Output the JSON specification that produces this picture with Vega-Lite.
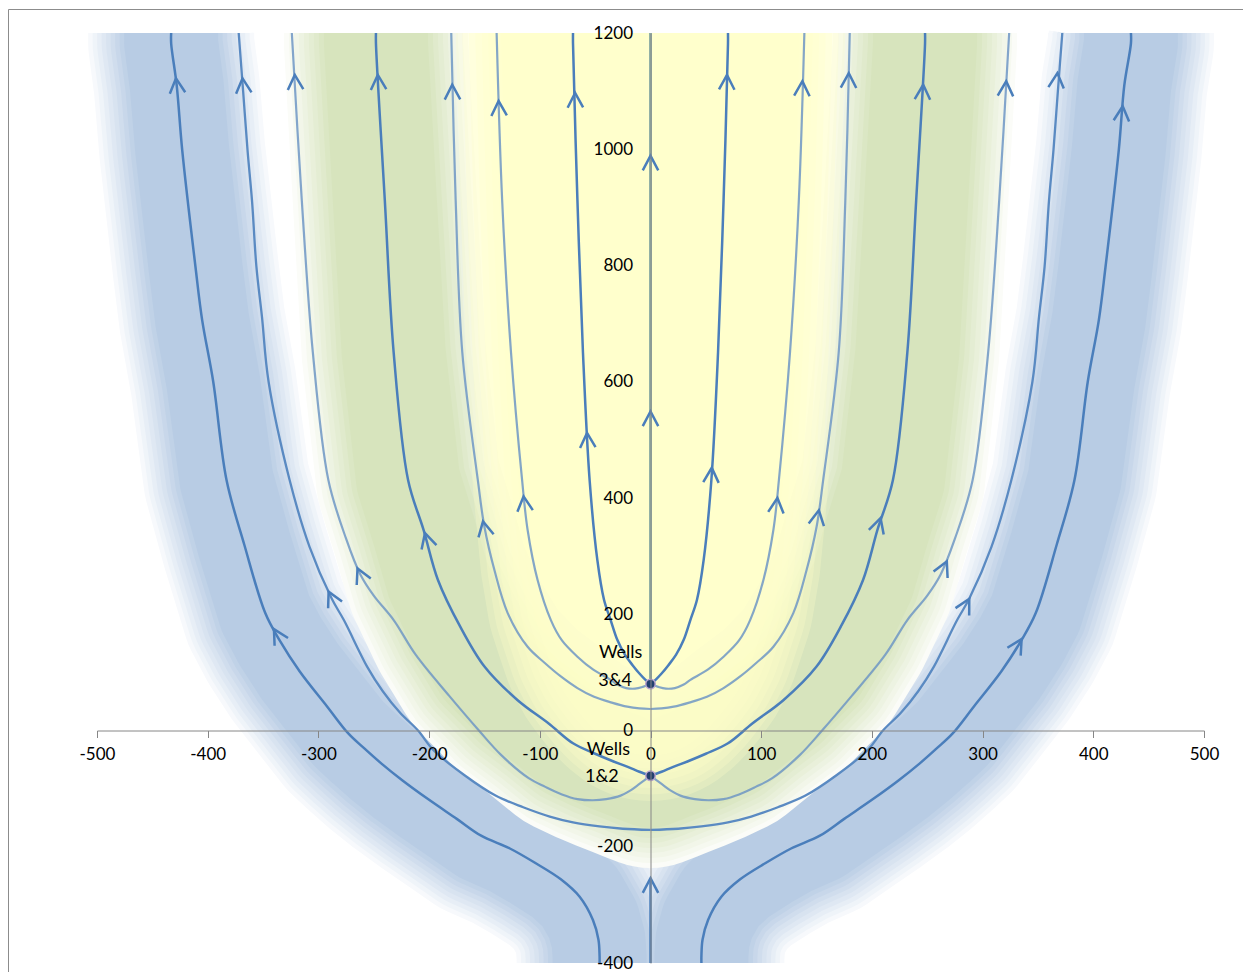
{
"$schema":"https://vega.github.io/schema/vega-lite/v6.json",
"width":1235,"height":963,
"autosize":{"type":"none"},
"padding":{"left":8,"top":9,"right":0,"bottom":0},
"config":{"view":{"stroke":"#8c8c8c","strokeWidth":1},"background":"white"},
"datasets":{
"sl":[
{"ln":"L1","p":"P1","o":-1,"x":-46,"y":-400},{"ln":"L1","p":"P1","o":-1.5,"x":-46,"y":-388},{"ln":"L1","p":"P1","o":-2,"x":-47,"y":-360},{"ln":"L1","p":"P1","o":-3,"x":-52,"y":-326},{"ln":"L1","p":"P1","o":-4,"x":-64,"y":-286},{"ln":"L1","p":"P1","o":-5,"x":-81,"y":-256},{"ln":"L1","p":"P1","o":-6,"x":-104,"y":-228},{"ln":"L1","p":"P1","o":-7,"x":-127,"y":-203},{"ln":"L1","p":"P1","o":-8,"x":-153,"y":-181},{"ln":"L1","p":"P1","o":-9,"x":-175,"y":-152},{"ln":"L1","p":"P1","o":-10,"x":-201,"y":-118},{"ln":"L1","p":"P1","o":-11,"x":-224,"y":-86},{"ln":"L1","p":"P1","o":-12,"x":-243,"y":-57},{"ln":"L1","p":"P1","o":-13,"x":-259,"y":-30},{"ln":"L1","p":"P1","o":-14,"x":-273,"y":-5},{"ln":"L1","p":"P1","o":-15,"x":-292,"y":41},{"ln":"L1","p":"P1","o":-16,"x":-317,"y":102},{"ln":"L1","p":"P1","o":-17,"x":-335,"y":155},{"ln":"L1","p":"P1","o":-18,"x":-348,"y":202},{"ln":"L1","p":"P1","o":-19,"x":-367,"y":320},{"ln":"L1","p":"P1","o":-20,"x":-383,"y":431},{"ln":"L1","p":"P1","o":-21,"x":-395,"y":600},{"ln":"L1","p":"P1","o":-22,"x":-405,"y":706},{"ln":"L1","p":"P1","o":-23,"x":-411,"y":797},{"ln":"L1","p":"P1","o":-24,"x":-423,"y":998},{"ln":"L1","p":"P1","o":-25,"x":-428,"y":1110},{"ln":"L1","p":"P1","o":-25.5,"x":-433,"y":1182},{"ln":"L1","p":"P1","o":-26,"x":-433,"y":1200},
{"ln":"R1","p":"P1","o":1,"x":46,"y":-400},{"ln":"R1","p":"P1","o":1.5,"x":46,"y":-388},{"ln":"R1","p":"P1","o":2,"x":47,"y":-360},{"ln":"R1","p":"P1","o":3,"x":52,"y":-326},{"ln":"R1","p":"P1","o":4,"x":64,"y":-286},{"ln":"R1","p":"P1","o":5,"x":81,"y":-256},{"ln":"R1","p":"P1","o":6,"x":104,"y":-228},{"ln":"R1","p":"P1","o":7,"x":127,"y":-203},{"ln":"R1","p":"P1","o":8,"x":153,"y":-181},{"ln":"R1","p":"P1","o":9,"x":175,"y":-152},{"ln":"R1","p":"P1","o":10,"x":201,"y":-118},{"ln":"R1","p":"P1","o":11,"x":224,"y":-86},{"ln":"R1","p":"P1","o":12,"x":243,"y":-57},{"ln":"R1","p":"P1","o":13,"x":259,"y":-30},{"ln":"R1","p":"P1","o":14,"x":273,"y":-5},{"ln":"R1","p":"P1","o":15,"x":292,"y":41},{"ln":"R1","p":"P1","o":16,"x":317,"y":102},{"ln":"R1","p":"P1","o":17,"x":335,"y":155},{"ln":"R1","p":"P1","o":18,"x":348,"y":202},{"ln":"R1","p":"P1","o":19,"x":367,"y":320},{"ln":"R1","p":"P1","o":20,"x":383,"y":431},{"ln":"R1","p":"P1","o":21,"x":395,"y":600},{"ln":"R1","p":"P1","o":22,"x":405,"y":706},{"ln":"R1","p":"P1","o":23,"x":411,"y":797},{"ln":"R1","p":"P1","o":24,"x":423,"y":998},{"ln":"R1","p":"P1","o":25,"x":428,"y":1110},{"ln":"R1","p":"P1","o":25.5,"x":434,"y":1182},{"ln":"R1","p":"P1","o":26,"x":434,"y":1200},
{"ln":"L2","p":"P2","o":-1,"x":0,"y":-171},{"ln":"L2","p":"P2","o":-2,"x":-25,"y":-169},{"ln":"L2","p":"P2","o":-3,"x":-46,"y":-165},{"ln":"L2","p":"P2","o":-4,"x":-70,"y":-158},{"ln":"L2","p":"P2","o":-5,"x":-91,"y":-148},{"ln":"L2","p":"P2","o":-6,"x":-115,"y":-132},{"ln":"L2","p":"P2","o":-7,"x":-140,"y":-112},{"ln":"L2","p":"P2","o":-8,"x":-168,"y":-77},{"ln":"L2","p":"P2","o":-9,"x":-196,"y":-34},{"ln":"L2","p":"P2","o":-10,"x":-210,"y":0},{"ln":"L2","p":"P2","o":-11,"x":-226,"y":30},{"ln":"L2","p":"P2","o":-12,"x":-242,"y":68},{"ln":"L2","p":"P2","o":-13,"x":-256,"y":110},{"ln":"L2","p":"P2","o":-14,"x":-277,"y":190},{"ln":"L2","p":"P2","o":-15,"x":-288,"y":227},{"ln":"L2","p":"P2","o":-16,"x":-308,"y":316},{"ln":"L2","p":"P2","o":-17,"x":-326,"y":431},{"ln":"L2","p":"P2","o":-18,"x":-345,"y":600},{"ln":"L2","p":"P2","o":-19,"x":-351,"y":712},{"ln":"L2","p":"P2","o":-20,"x":-356,"y":798},{"ln":"L2","p":"P2","o":-21,"x":-360,"y":912},{"ln":"L2","p":"P2","o":-22,"x":-364,"y":998},{"ln":"L2","p":"P2","o":-23,"x":-368,"y":1100},{"ln":"L2","p":"P2","o":-24,"x":-372,"y":1200},
{"ln":"R2","p":"P2","o":1,"x":0,"y":-171},{"ln":"R2","p":"P2","o":2,"x":25,"y":-169},{"ln":"R2","p":"P2","o":3,"x":46,"y":-165},{"ln":"R2","p":"P2","o":4,"x":70,"y":-158},{"ln":"R2","p":"P2","o":5,"x":91,"y":-148},{"ln":"R2","p":"P2","o":6,"x":115,"y":-132},{"ln":"R2","p":"P2","o":7,"x":140,"y":-112},{"ln":"R2","p":"P2","o":8,"x":168,"y":-77},{"ln":"R2","p":"P2","o":9,"x":196,"y":-34},{"ln":"R2","p":"P2","o":10,"x":210,"y":0},{"ln":"R2","p":"P2","o":11,"x":226,"y":30},{"ln":"R2","p":"P2","o":12,"x":242,"y":68},{"ln":"R2","p":"P2","o":13,"x":256,"y":110},{"ln":"R2","p":"P2","o":14,"x":277,"y":190},{"ln":"R2","p":"P2","o":15,"x":288,"y":227},{"ln":"R2","p":"P2","o":16,"x":308,"y":316},{"ln":"R2","p":"P2","o":17,"x":326,"y":431},{"ln":"R2","p":"P2","o":18,"x":345,"y":600},{"ln":"R2","p":"P2","o":19,"x":351,"y":712},{"ln":"R2","p":"P2","o":20,"x":356,"y":798},{"ln":"R2","p":"P2","o":21,"x":360,"y":912},{"ln":"R2","p":"P2","o":22,"x":364,"y":998},{"ln":"R2","p":"P2","o":23,"x":368,"y":1100},{"ln":"R2","p":"P2","o":24,"x":372,"y":1200},
{"ln":"L3","p":"P3","o":-1,"x":0,"y":-78},{"ln":"L3","p":"P3","o":-2,"x":-5,"y":-85},{"ln":"L3","p":"P3","o":-3,"x":-10,"y":-92},{"ln":"L3","p":"P3","o":-4,"x":-18,"y":-103},{"ln":"L3","p":"P3","o":-5,"x":-27,"y":-112},{"ln":"L3","p":"P3","o":-6,"x":-40,"y":-118},{"ln":"L3","p":"P3","o":-7,"x":-52,"y":-120},{"ln":"L3","p":"P3","o":-8,"x":-66,"y":-118},{"ln":"L3","p":"P3","o":-9,"x":-80,"y":-110},{"ln":"L3","p":"P3","o":-10,"x":-95,"y":-97},{"ln":"L3","p":"P3","o":-11,"x":-110,"y":-82},{"ln":"L3","p":"P3","o":-12,"x":-135,"y":-42},{"ln":"L3","p":"P3","o":-13,"x":-155,"y":0},{"ln":"L3","p":"P3","o":-14,"x":-182,"y":60},{"ln":"L3","p":"P3","o":-15,"x":-212,"y":130},{"ln":"L3","p":"P3","o":-16,"x":-232,"y":190},{"ln":"L3","p":"P3","o":-17,"x":-250,"y":232},{"ln":"L3","p":"P3","o":-18,"x":-262,"y":268},{"ln":"L3","p":"P3","o":-19,"x":-275,"y":330},{"ln":"L3","p":"P3","o":-20,"x":-291,"y":431},{"ln":"L3","p":"P3","o":-21,"x":-305,"y":650},{"ln":"L3","p":"P3","o":-22,"x":-315,"y":912},{"ln":"L3","p":"P3","o":-23,"x":-324,"y":1200},
{"ln":"R3","p":"P3","o":1,"x":0,"y":-78},{"ln":"R3","p":"P3","o":2,"x":5,"y":-85},{"ln":"R3","p":"P3","o":3,"x":10,"y":-92},{"ln":"R3","p":"P3","o":4,"x":18,"y":-103},{"ln":"R3","p":"P3","o":5,"x":27,"y":-112},{"ln":"R3","p":"P3","o":6,"x":40,"y":-118},{"ln":"R3","p":"P3","o":7,"x":52,"y":-120},{"ln":"R3","p":"P3","o":8,"x":66,"y":-118},{"ln":"R3","p":"P3","o":9,"x":80,"y":-110},{"ln":"R3","p":"P3","o":10,"x":95,"y":-97},{"ln":"R3","p":"P3","o":11,"x":110,"y":-82},{"ln":"R3","p":"P3","o":12,"x":135,"y":-42},{"ln":"R3","p":"P3","o":13,"x":155,"y":0},{"ln":"R3","p":"P3","o":14,"x":182,"y":60},{"ln":"R3","p":"P3","o":15,"x":212,"y":130},{"ln":"R3","p":"P3","o":16,"x":232,"y":190},{"ln":"R3","p":"P3","o":17,"x":250,"y":232},{"ln":"R3","p":"P3","o":18,"x":262,"y":268},{"ln":"R3","p":"P3","o":19,"x":275,"y":330},{"ln":"R3","p":"P3","o":20,"x":291,"y":431},{"ln":"R3","p":"P3","o":21,"x":305,"y":650},{"ln":"R3","p":"P3","o":22,"x":315,"y":912},{"ln":"R3","p":"P3","o":23,"x":324,"y":1200},
{"ln":"L4","p":"P4","o":-1,"x":0,"y":-78},{"ln":"L4","p":"P4","o":-2,"x":-10,"y":-71},{"ln":"L4","p":"P4","o":-3,"x":-20,"y":-63},{"ln":"L4","p":"P4","o":-4,"x":-35,"y":-52},{"ln":"L4","p":"P4","o":-5,"x":-50,"y":-40},{"ln":"L4","p":"P4","o":-6,"x":-70,"y":-22},{"ln":"L4","p":"P4","o":-7,"x":-92,"y":12},{"ln":"L4","p":"P4","o":-8,"x":-120,"y":52},{"ln":"L4","p":"P4","o":-9,"x":-150,"y":110},{"ln":"L4","p":"P4","o":-10,"x":-172,"y":179},{"ln":"L4","p":"P4","o":-11,"x":-192,"y":259},{"ln":"L4","p":"P4","o":-12,"x":-205,"y":345},{"ln":"L4","p":"P4","o":-13,"x":-219,"y":431},{"ln":"L4","p":"P4","o":-14,"x":-232,"y":650},{"ln":"L4","p":"P4","o":-15,"x":-240,"y":912},{"ln":"L4","p":"P4","o":-15.5,"x":-248,"y":1182},{"ln":"L4","p":"P4","o":-16,"x":-248,"y":1200},
{"ln":"R4","p":"P4","o":1,"x":0,"y":-78},{"ln":"R4","p":"P4","o":2,"x":10,"y":-71},{"ln":"R4","p":"P4","o":3,"x":20,"y":-63},{"ln":"R4","p":"P4","o":4,"x":35,"y":-52},{"ln":"R4","p":"P4","o":5,"x":50,"y":-40},{"ln":"R4","p":"P4","o":6,"x":70,"y":-22},{"ln":"R4","p":"P4","o":7,"x":92,"y":12},{"ln":"R4","p":"P4","o":8,"x":120,"y":52},{"ln":"R4","p":"P4","o":9,"x":150,"y":110},{"ln":"R4","p":"P4","o":10,"x":172,"y":179},{"ln":"R4","p":"P4","o":11,"x":192,"y":259},{"ln":"R4","p":"P4","o":12,"x":205,"y":345},{"ln":"R4","p":"P4","o":13,"x":219,"y":431},{"ln":"R4","p":"P4","o":14,"x":232,"y":650},{"ln":"R4","p":"P4","o":15,"x":240,"y":912},{"ln":"R4","p":"P4","o":15.5,"x":248,"y":1182},{"ln":"R4","p":"P4","o":16,"x":248,"y":1200},
{"ln":"L5","p":"P5","o":-1,"x":0,"y":37},{"ln":"L5","p":"P5","o":-2,"x":-10,"y":38},{"ln":"L5","p":"P5","o":-3,"x":-21,"y":41},{"ln":"L5","p":"P5","o":-4,"x":-35,"y":48},{"ln":"L5","p":"P5","o":-5,"x":-51,"y":58},{"ln":"L5","p":"P5","o":-6,"x":-66,"y":73},{"ln":"L5","p":"P5","o":-7,"x":-81,"y":93},{"ln":"L5","p":"P5","o":-8,"x":-96,"y":117},{"ln":"L5","p":"P5","o":-9,"x":-111,"y":144},{"ln":"L5","p":"P5","o":-10,"x":-129,"y":202},{"ln":"L5","p":"P5","o":-11,"x":-141,"y":276},{"ln":"L5","p":"P5","o":-12,"x":-150,"y":350},{"ln":"L5","p":"P5","o":-13,"x":-156,"y":431},{"ln":"L5","p":"P5","o":-14,"x":-170,"y":650},{"ln":"L5","p":"P5","o":-15,"x":-176,"y":912},{"ln":"L5","p":"P5","o":-16,"x":-180,"y":1200},
{"ln":"R5","p":"P5","o":1,"x":0,"y":37},{"ln":"R5","p":"P5","o":2,"x":10,"y":38},{"ln":"R5","p":"P5","o":3,"x":21,"y":41},{"ln":"R5","p":"P5","o":4,"x":35,"y":48},{"ln":"R5","p":"P5","o":5,"x":51,"y":58},{"ln":"R5","p":"P5","o":6,"x":66,"y":73},{"ln":"R5","p":"P5","o":7,"x":81,"y":93},{"ln":"R5","p":"P5","o":8,"x":96,"y":117},{"ln":"R5","p":"P5","o":9,"x":111,"y":144},{"ln":"R5","p":"P5","o":10,"x":129,"y":202},{"ln":"R5","p":"P5","o":11,"x":141,"y":276},{"ln":"R5","p":"P5","o":12,"x":150,"y":350},{"ln":"R5","p":"P5","o":13,"x":156,"y":431},{"ln":"R5","p":"P5","o":14,"x":170,"y":650},{"ln":"R5","p":"P5","o":15,"x":176,"y":912},{"ln":"R5","p":"P5","o":16,"x":180,"y":1200},
{"ln":"L6","p":"P6","o":-1,"x":0,"y":80},{"ln":"L6","p":"P6","o":-2,"x":-7,"y":75},{"ln":"L6","p":"P6","o":-3,"x":-14,"y":72},{"ln":"L6","p":"P6","o":-4,"x":-22,"y":73},{"ln":"L6","p":"P6","o":-5,"x":-30,"y":79},{"ln":"L6","p":"P6","o":-6,"x":-36,"y":87},{"ln":"L6","p":"P6","o":-7,"x":-52,"y":105},{"ln":"L6","p":"P6","o":-8,"x":-66,"y":127},{"ln":"L6","p":"P6","o":-9,"x":-80,"y":155},{"ln":"L6","p":"P6","o":-10,"x":-90,"y":190},{"ln":"L6","p":"P6","o":-11,"x":-102,"y":259},{"ln":"L6","p":"P6","o":-12,"x":-111,"y":345},{"ln":"L6","p":"P6","o":-13,"x":-116,"y":431},{"ln":"L6","p":"P6","o":-14,"x":-126,"y":650},{"ln":"L6","p":"P6","o":-15,"x":-134,"y":912},{"ln":"L6","p":"P6","o":-16,"x":-139,"y":1200},
{"ln":"R6","p":"P6","o":1,"x":0,"y":80},{"ln":"R6","p":"P6","o":2,"x":7,"y":75},{"ln":"R6","p":"P6","o":3,"x":14,"y":72},{"ln":"R6","p":"P6","o":4,"x":22,"y":73},{"ln":"R6","p":"P6","o":5,"x":30,"y":79},{"ln":"R6","p":"P6","o":6,"x":36,"y":87},{"ln":"R6","p":"P6","o":7,"x":52,"y":105},{"ln":"R6","p":"P6","o":8,"x":66,"y":127},{"ln":"R6","p":"P6","o":9,"x":80,"y":155},{"ln":"R6","p":"P6","o":10,"x":90,"y":190},{"ln":"R6","p":"P6","o":11,"x":102,"y":259},{"ln":"R6","p":"P6","o":12,"x":111,"y":345},{"ln":"R6","p":"P6","o":13,"x":116,"y":431},{"ln":"R6","p":"P6","o":14,"x":126,"y":650},{"ln":"R6","p":"P6","o":15,"x":134,"y":912},{"ln":"R6","p":"P6","o":16,"x":139,"y":1200},
{"ln":"L7","p":"P7","o":-1,"x":0,"y":80},{"ln":"L7","p":"P7","o":-2,"x":-5,"y":88},{"ln":"L7","p":"P7","o":-3,"x":-10,"y":98},{"ln":"L7","p":"P7","o":-4,"x":-16,"y":112},{"ln":"L7","p":"P7","o":-5,"x":-23,"y":130},{"ln":"L7","p":"P7","o":-6,"x":-30,"y":156},{"ln":"L7","p":"P7","o":-7,"x":-36,"y":190},{"ln":"L7","p":"P7","o":-8,"x":-42,"y":225},{"ln":"L7","p":"P7","o":-9,"x":-48,"y":293},{"ln":"L7","p":"P7","o":-10,"x":-55,"y":431},{"ln":"L7","p":"P7","o":-11,"x":-61,"y":650},{"ln":"L7","p":"P7","o":-12,"x":-66,"y":912},{"ln":"L7","p":"P7","o":-12.5,"x":-70,"y":1182},{"ln":"L7","p":"P7","o":-13,"x":-70,"y":1200},
{"ln":"R7","p":"P7","o":1,"x":0,"y":80},{"ln":"R7","p":"P7","o":2,"x":5,"y":88},{"ln":"R7","p":"P7","o":3,"x":10,"y":98},{"ln":"R7","p":"P7","o":4,"x":16,"y":112},{"ln":"R7","p":"P7","o":5,"x":23,"y":130},{"ln":"R7","p":"P7","o":6,"x":30,"y":156},{"ln":"R7","p":"P7","o":7,"x":36,"y":190},{"ln":"R7","p":"P7","o":8,"x":42,"y":225},{"ln":"R7","p":"P7","o":9,"x":48,"y":293},{"ln":"R7","p":"P7","o":10,"x":55,"y":431},{"ln":"R7","p":"P7","o":11,"x":61,"y":650},{"ln":"R7","p":"P7","o":12,"x":66,"y":912},{"ln":"R7","p":"P7","o":12.5,"x":70,"y":1182},{"ln":"R7","p":"P7","o":13,"x":70,"y":1200},
{"ln":"CB","p":"CB","o":1,"x":0,"y":-400},{"ln":"CB","p":"CB","o":2,"x":0,"y":-258},
{"ln":"CT","p":"CT","o":1,"x":0,"y":80},{"ln":"CT","p":"CT","o":2,"x":0,"y":1200}
],
"arrows":[
{"x":-428,"y":1110,"a":-6},{"x":-368,"y":1110,"a":-5},{"x":-321,"y":1116,"a":-3},{"x":-246,"y":1116,"a":-3},{"x":-179,"y":1099,"a":-1},{"x":-137,"y":1071,"a":-2},{"x":-68,"y":1085,"a":-1},
{"x":69,"y":1116,"a":1},{"x":137,"y":1105,"a":2},{"x":179,"y":1119,"a":1},{"x":246,"y":1099,"a":3},{"x":321,"y":1105,"a":3},{"x":367,"y":1119,"a":5},{"x":426,"y":1062,"a":5},
{"x":0,"y":977,"a":0},{"x":0,"y":537,"a":0},{"x":0,"y":-266,"a":0},
{"x":-337,"y":164,"a":-30},{"x":-288,"y":228,"a":-26},{"x":-262,"y":268,"a":-25},{"x":-202,"y":328,"a":-16},{"x":-150,"y":348,"a":-12},{"x":-114,"y":391,"a":-6},{"x":-57,"y":500,"a":-3},
{"x":55,"y":440,"a":3},{"x":114,"y":388,"a":6},{"x":151,"y":367,"a":10},{"x":206,"y":354,"a":17},{"x":265,"y":280,"a":25},{"x":285,"y":216,"a":28},{"x":332,"y":147,"a":31}
],
"grid":[{"y":-400},{"y":-200},{"y":200},{"y":400},{"y":600},{"y":800},{"y":1000},{"y":1200}],
"wells":[{"x":0,"y":-78,"name":"Wells 1&2"},{"x":0,"y":80,"name":"Wells 3&4"}],
"labels":[{"t":"Wells","x":-38,"y":-34},{"t":"1&2","x":-44,"y":-80},{"t":"Wells","x":-27,"y":134},{"t":"3&4","x":-32,"y":85}]
},
"data":{"name":"sl"},
"encoding":{
"x":{"field":"x","type":"quantitative","scale":{"domain":[-500,500],"range":[89,1196],"nice":false,"zero":false},
"axis":{"orient":"bottom","offset":-241.5,"values":[-500,-400,-300,-200,-100,0,100,200,300,400,500],"grid":false,"domainColor":"#868686","tickColor":"#868686","tickSize":7,"labelPadding":9,"labelFont":"Lato","labelFontSize":17,"labelColor":"#000000","labelExpr":"toString(datum.value)","labelFlush":false,"labelOverlap":false,"title":null,"zindex":1}},
"y":{"field":"y","type":"quantitative","scale":{"domain":[-400,1200],"range":[954,24],"nice":false,"zero":false},
"axis":{"orient":"left","offset":-642.5,"values":[-400,-200,0,200,400,600,800,1000,1200],"grid":false,"ticks":false,"tickSize":0,"labelPadding":18,"domainColor":"#868686","labelFont":"Lato","labelFontSize":17,"labelColor":"#000000","labelExpr":"toString(datum.value)","labelFlush":false,"labelOverlap":false,"title":null,"zindex":1}}
},
"layer":[
{"transform":[{"filter":"datum.p==='P1'"}],"mark":{"type":"line","color":"#f7f9fc","strokeWidth":166,"strokeCap":"butt","strokeJoin":"round"},"encoding":{"detail":{"field":"ln"},"order":{"field":"o","type":"quantitative"}}},
{"transform":[{"filter":"datum.p==='P1'"}],"mark":{"type":"line","color":"#eff4f9","strokeWidth":157,"strokeCap":"butt","strokeJoin":"round"},"encoding":{"detail":{"field":"ln"},"order":{"field":"o","type":"quantitative"}}},
{"transform":[{"filter":"datum.p==='P1'"}],"mark":{"type":"line","color":"#e7eef6","strokeWidth":148,"strokeCap":"butt","strokeJoin":"round"},"encoding":{"detail":{"field":"ln"},"order":{"field":"o","type":"quantitative"}}},
{"transform":[{"filter":"datum.p==='P1'"}],"mark":{"type":"line","color":"#dfe8f3","strokeWidth":139,"strokeCap":"butt","strokeJoin":"round"},"encoding":{"detail":{"field":"ln"},"order":{"field":"o","type":"quantitative"}}},
{"transform":[{"filter":"datum.p==='P1'"}],"mark":{"type":"line","color":"#d8e3f0","strokeWidth":130,"strokeCap":"butt","strokeJoin":"round"},"encoding":{"detail":{"field":"ln"},"order":{"field":"o","type":"quantitative"}}},
{"transform":[{"filter":"datum.p==='P1'"}],"mark":{"type":"line","color":"#d0dded","strokeWidth":121,"strokeCap":"butt","strokeJoin":"round"},"encoding":{"detail":{"field":"ln"},"order":{"field":"o","type":"quantitative"}}},
{"transform":[{"filter":"datum.p==='P1'"}],"mark":{"type":"line","color":"#c8d7ea","strokeWidth":112,"strokeCap":"butt","strokeJoin":"round"},"encoding":{"detail":{"field":"ln"},"order":{"field":"o","type":"quantitative"}}},
{"transform":[{"filter":"datum.p==='P1'"}],"mark":{"type":"line","color":"#c0d2e7","strokeWidth":103,"strokeCap":"butt","strokeJoin":"round"},"encoding":{"detail":{"field":"ln"},"order":{"field":"o","type":"quantitative"}}},
{"transform":[{"filter":"datum.p==='P1'"}],"mark":{"type":"line","color":"#b8cce4","strokeWidth":94,"strokeCap":"butt","strokeJoin":"round"},"encoding":{"detail":{"field":"ln"},"order":{"field":"o","type":"quantitative"}}},
{"transform":[{"filter":"datum.p==='P4'"}],"mark":{"type":"line","color":"#fbfcf8","strokeWidth":184,"strokeCap":"butt","strokeJoin":"round"},"encoding":{"detail":{"field":"p"},"order":{"field":"o","type":"quantitative"}}},
{"transform":[{"filter":"datum.p==='P4'"}],"mark":{"type":"line","color":"#f6f9f0","strokeWidth":174,"strokeCap":"butt","strokeJoin":"round"},"encoding":{"detail":{"field":"p"},"order":{"field":"o","type":"quantitative"}}},
{"transform":[{"filter":"datum.p==='P4'"}],"mark":{"type":"line","color":"#f2f6e9","strokeWidth":164,"strokeCap":"butt","strokeJoin":"round"},"encoding":{"detail":{"field":"p"},"order":{"field":"o","type":"quantitative"}}},
{"transform":[{"filter":"datum.p==='P4'"}],"mark":{"type":"line","color":"#edf3e2","strokeWidth":154,"strokeCap":"butt","strokeJoin":"round"},"encoding":{"detail":{"field":"p"},"order":{"field":"o","type":"quantitative"}}},
{"transform":[{"filter":"datum.p==='P4'"}],"mark":{"type":"line","color":"#e9f0da","strokeWidth":144,"strokeCap":"butt","strokeJoin":"round"},"encoding":{"detail":{"field":"p"},"order":{"field":"o","type":"quantitative"}}},
{"transform":[{"filter":"datum.p==='P4'"}],"mark":{"type":"line","color":"#e4edd3","strokeWidth":134,"strokeCap":"butt","strokeJoin":"round"},"encoding":{"detail":{"field":"p"},"order":{"field":"o","type":"quantitative"}}},
{"transform":[{"filter":"datum.p==='P4'"}],"mark":{"type":"line","color":"#e0eacc","strokeWidth":124,"strokeCap":"butt","strokeJoin":"round"},"encoding":{"detail":{"field":"p"},"order":{"field":"o","type":"quantitative"}}},
{"transform":[{"filter":"datum.p==='P4'"}],"mark":{"type":"line","color":"#dbe7c4","strokeWidth":114,"strokeCap":"butt","strokeJoin":"round"},"encoding":{"detail":{"field":"p"},"order":{"field":"o","type":"quantitative"}}},
{"transform":[{"filter":"datum.p==='P4'"}],"mark":{"type":"line","color":"#d7e4bd","strokeWidth":104,"strokeCap":"butt","strokeJoin":"round"},"encoding":{"detail":{"field":"p"},"order":{"field":"o","type":"quantitative"}}},
{"transform":[{"filter":"datum.p==='P7'"}],"mark":{"type":"line","color":"#ffffc8","opacity":0.28,"strokeWidth":234,"strokeCap":"butt","strokeJoin":"round"},"encoding":{"detail":{"field":"p"},"order":{"field":"o","type":"quantitative"}}},
{"transform":[{"filter":"datum.p==='P7'"}],"mark":{"type":"line","color":"#ffffc8","opacity":0.28,"strokeWidth":221,"strokeCap":"butt","strokeJoin":"round"},"encoding":{"detail":{"field":"p"},"order":{"field":"o","type":"quantitative"}}},
{"transform":[{"filter":"datum.p==='P7'"}],"mark":{"type":"line","color":"#ffffc8","opacity":0.28,"strokeWidth":208,"strokeCap":"butt","strokeJoin":"round"},"encoding":{"detail":{"field":"p"},"order":{"field":"o","type":"quantitative"}}},
{"transform":[{"filter":"datum.p==='P7'"}],"mark":{"type":"line","color":"#ffffc8","opacity":0.28,"strokeWidth":195,"strokeCap":"butt","strokeJoin":"round"},"encoding":{"detail":{"field":"p"},"order":{"field":"o","type":"quantitative"}}},
{"transform":[{"filter":"datum.p==='P7'"}],"mark":{"type":"line","color":"#ffffc8","opacity":0.28,"strokeWidth":182,"strokeCap":"butt","strokeJoin":"round"},"encoding":{"detail":{"field":"p"},"order":{"field":"o","type":"quantitative"}}},
{"transform":[{"filter":"datum.p==='P7'"}],"mark":{"type":"line","color":"#ffffc8","opacity":0.28,"strokeWidth":169,"strokeCap":"butt","strokeJoin":"round"},"encoding":{"detail":{"field":"p"},"order":{"field":"o","type":"quantitative"}}},
{"transform":[{"filter":"datum.p==='P7'"}],"mark":{"type":"line","color":"#ffffc8","opacity":0.28,"strokeWidth":156,"strokeCap":"butt","strokeJoin":"round"},"encoding":{"detail":{"field":"p"},"order":{"field":"o","type":"quantitative"}}},
{"transform":[{"filter":"datum.p==='P7'"}],"mark":{"type":"line","color":"#ffffc8","opacity":0.28,"strokeWidth":143,"strokeCap":"butt","strokeJoin":"round"},"encoding":{"detail":{"field":"p"},"order":{"field":"o","type":"quantitative"}}},
{"data":{"name":"grid"},"mark":{"type":"rule","color":"#868686","strokeWidth":1},"encoding":{"x":{"datum":-500},"x2":{"datum":500}}},
{"transform":[{"filter":"datum.p==='P3'||datum.p==='P5'||datum.p==='P6'"}],"mark":{"type":"line","color":"#6f97c4","strokeWidth":2.2,"opacity":0.85,"interpolate":"catmull-rom"},"encoding":{"detail":{"field":"ln"},"order":{"field":"o","type":"quantitative"}}},
{"transform":[{"filter":"datum.p==='CT'"}],"mark":{"type":"line","color":"#92b1a6","strokeWidth":3},"encoding":{"detail":{"field":"ln"},"order":{"field":"o","type":"quantitative"}}},
{"transform":[{"filter":"datum.p==='P2'"}],"mark":{"type":"line","color":"#5a8ac2","strokeWidth":2.3,"interpolate":"catmull-rom"},"encoding":{"detail":{"field":"ln"},"order":{"field":"o","type":"quantitative"}}},
{"transform":[{"filter":"datum.p==='P1'||datum.p==='P4'||datum.p==='P7'||datum.p==='CB'"}],"mark":{"type":"line","color":"#4a7ebb","strokeWidth":2.5,"interpolate":"catmull-rom"},"encoding":{"detail":{"field":"ln"},"order":{"field":"o","type":"quantitative"}}},
{"data":{"name":"arrows"},"mark":{"type":"point","shape":"M-1,1L0,-0.9L1,1","filled":false,"color":"#4a7ebb","strokeWidth":2.5,"size":240,"opacity":1},"encoding":{"angle":{"field":"a","type":"quantitative","scale":null}}},
{"data":{"name":"wells"},"mark":{"type":"point","filled":true,"fill":"#24406e","stroke":"#b9a3cf","strokeWidth":1.5,"size":90,"opacity":1}},
{"data":{"name":"labels"},"mark":{"type":"text","font":"Lato","fontSize":18,"color":"#000000","align":"center","baseline":"middle"},"encoding":{"text":{"field":"t"}}}
]
}
